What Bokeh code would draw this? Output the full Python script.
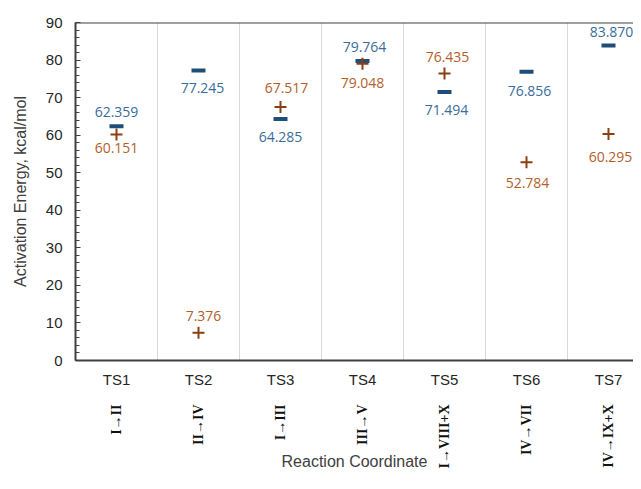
import math
from bokeh.plotting import figure
from bokeh.models import (Range1d, FixedTicker, LinearAxis, ColumnDataSource,
                          Span, LabelSet)
from bokeh.core.properties import value
from bokeh.embed import file_html
from bokeh.resources import INLINE

# ---- data ----
ts_labels = ["TS1", "TS2", "TS3", "TS4", "TS5", "TS6", "TS7"]
reactions = ["I→II", "II→IV", "I→III", "III→V", "I→VIII+X", "IV→VII", "IV→IX+X"]
blue_vals = [62.359, 77.245, 64.285, 79.764, 71.494, 76.856, 83.870]
brown_vals = [60.151, 7.376, 67.517, 79.048, 76.435, 52.784, 60.295]
y_ticks = [0, 10, 20, 30, 40, 50, 60, 70, 80, 90]

# label placement (pixel offsets, style only)
blue_dx = [0, 4, 0, 2, 2, 3, 3]
blue_dy = [14, -18, -18, 14, -18, -19, 14]
brown_dx = [0, 5, 6, 0, 3, 1, 2]
brown_dy = [-13, 17, 19, -19, 16, -21, -23]

pos = [i + 0.5 for i in range(len(ts_labels))]

BLUE_MARK = "#1f4e79"
BLUE_TEXT = "#3a6c9b"
BROWN_MARK = "#8a3f12"
BROWN_TEXT = "#b2602b"
AXIS_COL = "#404040"
TEXT_COL = "#262626"

p = figure(width=633, height=473, output_backend="svg", toolbar_location=None,
           x_range=Range1d(0, 558 / 82), y_range=Range1d(0, 90),
           min_border_left=75, min_border_right=0, min_border_top=22,
           min_border_bottom=113)
p.outline_line_color = None
p.background_fill_color = "white"

# grid
p.ygrid.grid_line_color = None
p.xgrid.ticker = FixedTicker(ticks=[i for i in range(1, len(ts_labels) + 1)])
p.xgrid.grid_line_color = "#d9d9d9"
p.xgrid.grid_line_width = 1

# y axis
ya = p.yaxis[0]
ya.ticker = FixedTicker(ticks=y_ticks, minor_ticks=[v for v in range(0, 91, 2)])
ya.major_tick_in = 5
ya.major_tick_out = 0
ya.minor_tick_in = 4
ya.minor_tick_out = 0
ya.axis_line_color = AXIS_COL
ya.axis_line_width = 2
ya.major_tick_line_color = AXIS_COL
ya.minor_tick_line_color = AXIS_COL
ya.major_label_text_font = "Liberation Sans"
ya.major_label_text_font_size = "15px"
ya.major_label_text_color = TEXT_COL
ya.major_label_standoff = 13
ya.axis_label = "Activation Energy, kcal/mol"
ya.axis_label_text_font = "Liberation Sans"
ya.axis_label_text_font_size = "16px"
ya.axis_label_text_font_style = "normal"
ya.axis_label_text_color = AXIS_COL
ya.axis_label_standoff = 14

# x axis (TS labels)
xa = p.xaxis[0]
xa.ticker = FixedTicker(ticks=pos, minor_ticks=[])
xa.major_label_overrides = {pos[i]: ts_labels[i] for i in range(len(pos))}
xa.major_tick_line_color = None
xa.minor_tick_line_color = None
xa.axis_line_color = AXIS_COL
xa.axis_line_width = 2
xa.major_label_text_font = "Liberation Sans"
xa.major_label_text_font_size = "15px"
xa.major_label_text_color = TEXT_COL
xa.major_label_standoff = 4

# second x axis (reaction labels) + axis title
xb = LinearAxis(ticker=FixedTicker(ticks=pos, minor_ticks=[]))
xb.major_label_overrides = {pos[i]: reactions[i] for i in range(len(pos))}
xb.major_label_orientation = math.pi / 2
xb.major_tick_line_color = None
xb.minor_tick_line_color = None
xb.axis_line_color = None
xb.major_label_text_font = "Liberation Serif"
xb.major_label_text_font_style = "bold"
xb.major_label_text_font_size = "14px"
xb.major_label_text_color = "#111111"
xb.major_label_standoff = 8
xb.axis_label = "Reaction Coordinate"
xb.axis_label_text_font = "Liberation Sans"
xb.axis_label_text_font_size = "16px"
xb.axis_label_text_font_style = "normal"
xb.axis_label_text_color = AXIS_COL
xb.axis_label_standoff = -18
p.add_layout(xb, "below")

# top border
p.add_layout(Span(location=90, dimension="width", line_color=AXIS_COL, line_width=2))

# markers
src = ColumnDataSource(dict(
    x=pos, blue=blue_vals, brown=brown_vals,
    blue_txt=["%.3f" % v for v in blue_vals],
    brown_txt=["%.3f" % v for v in brown_vals],
    bdx=blue_dx, bdy=blue_dy, rdx=brown_dx, rdy=brown_dy,
))
p.scatter("x", "blue", source=src, marker="dash", size=14, line_width=4,
          line_color=BLUE_MARK)
p.scatter("x", "brown", source=src, marker="cross", size=12, line_width=2,
          line_color=BROWN_MARK)

p.add_layout(LabelSet(x="x", y="blue", text="blue_txt", source=src,
                      x_offset="bdx", y_offset="bdy",
                      text_align="center", text_baseline="middle",
                      text_font=value("Open Sans"), text_font_size="14px",
                      text_color=BLUE_TEXT))
p.add_layout(LabelSet(x="x", y="brown", text="brown_txt", source=src,
                      x_offset="rdx", y_offset="rdy",
                      text_align="center", text_baseline="middle",
                      text_font=value("Open Sans"), text_font_size="14px",
                      text_color=BROWN_TEXT))

open("out.html", "w").write(file_html(p, INLINE))
